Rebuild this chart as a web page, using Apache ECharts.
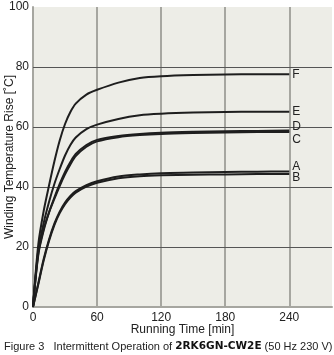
<!DOCTYPE html>
<html><head><meta charset="utf-8">
<script src="https://cdn.jsdelivr.net/npm/echarts@6/dist/echarts.min.js"></script>
<style>html,body{margin:0;padding:0;background:#fff}#c{width:334px;height:355px}</style>
</head><body><div id="c"></div>
<script>
const times = [0, 5, 10, 15, 20, 25, 30, 35, 40, 50, 60, 80, 100, 120, 150, 180, 210, 240];
const seriesNames = ['F', 'E', 'D', 'C', 'A', 'B'];
const valF = [0, 21, 32, 40.5, 48.5, 55.5, 61, 65, 67.8, 70.8, 72.4, 74.8, 76.3, 76.9, 77.3, 77.5, 77.6, 77.6];
const valE = [0, 19, 28, 35, 41, 46, 50.5, 54, 56.5, 59.3, 60.8, 62.7, 63.9, 64.4, 64.8, 65, 65.1, 65.1];
const valD = [0, 17.5, 25.5, 31.5, 36.5, 41, 45, 48.3, 51, 54, 55.7, 57, 57.7, 58.1, 58.4, 58.6, 58.7, 58.8];
const valC = [0, 18, 26, 31.5, 36, 40.3, 44.2, 47.5, 50.3, 53.4, 55.2, 56.6, 57.3, 57.7, 58, 58.2, 58.3, 58.3];
const valA = [0, 8, 16, 22.5, 27.8, 31.8, 34.8, 37, 38.6, 40.6, 41.9, 43.5, 44.2, 44.6, 44.8, 45, 45.1, 45.2];
const valB = [0, 7.6, 15.5, 22, 27.3, 31.3, 34.3, 36.5, 38.1, 40.1, 41.4, 42.9, 43.6, 43.9, 44.1, 44.2, 44.3, 44.3];
const xTicks = [0, 60, 120, 180, 240];
const yGridVals = [20, 40, 60, 80];
const xGridVals = [60, 120, 180, 240];
const labelOffsets = {F: 0, E: 0, D: -4, C: 8, A: -5, B: 4};

const allVals = [valF, valE, valD, valC, valA, valB];
const FONT = 'Liberation Sans Narrow, Liberation Sans, Arial, sans-serif';

const series = seriesNames.map((n, i) => ({
  name: n,
  type: 'line',
  smooth: 0.3,
  showSymbol: false,
  data: times.map((t, j) => [t, allVals[i][j]]),
  lineStyle: {color: '#1e1e1e', width: 2},
  endLabel: {show: true, formatter: n, color: '#222', fontSize: 12, fontFamily: FONT,
             distance: 3, offset: [0, labelOffsets[n]]},
  z: 5
}));
series.push({
  type: 'line', data: [], silent: true,
  markLine: {
    silent: true, symbol: 'none', label: {show: false},
    data: xGridVals.map(v => ({xAxis: v, lineStyle: {color: '#a6a6a0', width: 2, type: 'solid'}}))
      .concat(yGridVals.map(v => ({yAxis: v, lineStyle: {color: '#555', width: 1, type: 'solid'}})))
  },
  z: 2
});

const chart = echarts.init(document.getElementById('c'));
chart.setOption({
  animation: false,
  grid: {left: 33, right: 2, top: 7, bottom: 48, show: true, backgroundColor: '#ededE7', borderWidth: 0,
         containLabel: false, outerBoundsMode: 'none'},
  xAxis: {
    type: 'value', min: 0, max: 280, interval: 60,
    axisLine: {show: true, lineStyle: {color: '#a6a6a0', width: 2}},
    axisTick: {show: false}, splitLine: {show: false},
    axisLabel: {color: '#222', fontSize: 12, fontFamily: FONT, margin: 5, showMaxLabel: false,
      formatter: v => xTicks.includes(v) ? String(v) : ''},
    name: 'Running Time [min]', nameLocation: 'middle', nameGap: 17, nameMoveOverlap: false,
    nameTextStyle: {color: '#222', fontSize: 12, fontFamily: FONT}
  },
  yAxis: {
    type: 'value', min: 0, max: 100, interval: 20,
    axisLine: {show: true, lineStyle: {color: '#a6a6a0', width: 2}},
    axisTick: {show: false}, splitLine: {show: false},
    axisLabel: {color: '#222', fontSize: 12, fontFamily: FONT, margin: 4},
    name: 'Winding Temperature Rise [˚C]', nameLocation: 'middle', nameGap: 17, nameMoveOverlap: false,
    nameTextStyle: {color: '#222', fontSize: 12, fontFamily: FONT}
  },
  series: series,
  graphic: [{
    type: 'text', left: 4, top: 341,
    style: {
      rich: {
        a: {fontFamily: FONT, fontSize: 11, fill: '#222'},
        b: {fontFamily: 'DejaVu Sans, sans-serif', fontWeight: 'bold', fontSize: 10.5, fill: '#111'}
      },
      text: '{a|Figure 3   Intermittent Operation of }{b|2RK6GN-CW2E}{a| (50 Hz 230 V)}'
    }
  }]
});
</script></body></html>
